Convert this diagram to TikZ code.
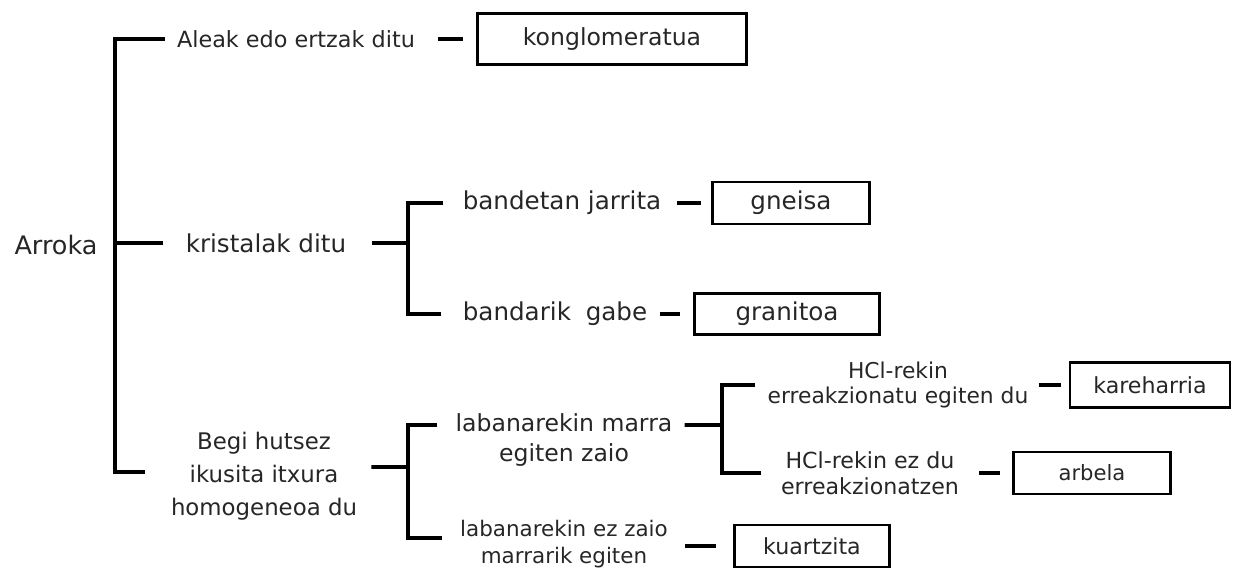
\documentclass[tikz,border=0pt]{standalone}
\usepackage{fontspec}
\setmainfont{DejaVu Sans}
\usepackage{tikz}

\begin{document}
\begin{tikzpicture}
[x=0.2mm,y=-0.2mm,
 bar/.style={line width=2.2pt},
 txt/.style={inner sep=0pt,align=center,text=black!85},
 box/.style={draw,line width=1.4pt,inner sep=0pt,text=black!85},]

\useasboundingbox (0,0) rectangle (1235,570);

% labels
\node (arroka) at (56,245)[txt,font=\fontsize{14.5}{17}\selectfont]{Arroka};
\node (aleak) at (296,39)[txt,font=\fontsize{12.7}{15}\selectfont]{Aleak edo ertzak ditu};
\node (kristal) at (266,243)[txt,font=\fontsize{14}{17}\selectfont]{kristalak ditu};
\node (begi) at (264,476)[txt,font=\fontsize{13}{18.7}\selectfont]{Begi hutsez\\ikusita itxura\\homogeneoa du};
\node (bandetan) at (562,203)[txt,font=\fontsize{14}{17}\selectfont]{bandetan jarrita};
\node (bandarik) at (555,314)[txt,font=\fontsize{14}{17}\selectfont]{bandarik\hspace{0.6em}gabe};
\node (labmarra) at (564,440)[txt,font=\fontsize{13.4}{17}\selectfont]{labanarekin marra\\egiten zaio};
\node (labez) at (564,544)[txt,font=\fontsize{12.2}{15.3}\selectfont]{labanarekin ez zaio\\marrarik egiten};
\node (hcl1) at (898,385)[txt,font=\fontsize{12.4}{14.7}\selectfont]{HCl-rekin\\erreakzionatu egiten du};
\node (hcl2) at (870,473)[txt,font=\fontsize{12.6}{14.7}\selectfont]{HCl-rekin ez du\\erreakzionatzen};

% rock names
\node (kongl) at (612,39)[box,minimum width=53.8mm,minimum height=10.2mm,font=\fontsize{13.4}{16}\selectfont]{konglomeratua};
\node (gneisa) at (791,203)[box,minimum width=31.4mm,minimum height=8.4mm,font=\fontsize{14}{17}\selectfont]{gneisa};
\node (granitoa) at (787,314)[box,minimum width=37mm,minimum height=8.2mm,font=\fontsize{14}{17}\selectfont]{granitoa};
\node (kareharria) at (1150,385)[box,minimum width=32mm,minimum height=9mm,font=\fontsize{12.6}{15}\selectfont]{kareharria};
\node (arbela) at (1092,473)[box,minimum width=31.4mm,minimum height=8.4mm,font=\fontsize{12}{15}\selectfont]{arbela};
\node (kuartzita) at (812,546)[box,minimum width=31mm,minimum height=8.4mm,font=\fontsize{12.6}{15}\selectfont]{kuartzita};

% bracket junctions
\coordinate (sp1) at (115,243);
\coordinate (sp2) at (408,243);
\coordinate (sp3) at (408,467);
\coordinate (sp4) at (722,425);

\draw[bar,shorten <=2.4mm] (aleak.west) -| (sp1);
\draw[bar,shorten <=4.4mm] (kristal.west) -- (sp1);
\draw[bar,shorten <=5.2mm] ([yshift=0.8mm]begi.west) -| (sp1);
\draw[bar,shorten <=4.6mm,shorten >=2.6mm] (aleak.east) -- (kongl.west);

\draw[bar,shorten <=5mm] (kristal.east) -- (sp2);
\draw[bar,shorten <=3.8mm] (bandetan.west) -| (sp2);
\draw[bar,shorten <=4.2mm] (bandarik.west) -| (sp2);
\draw[bar,shorten <=3mm,shorten >=2mm] (bandetan.east) -- (gneisa.west);
\draw[bar,shorten <=2.4mm,shorten >=2.6mm] (bandarik.east) -- (granitoa.west);

\draw[bar,shorten <=2.8mm] ([yshift=1.8mm]begi.east) -- (sp3);
\draw[bar,shorten <=3.6mm] ([yshift=3mm]labmarra.west) -| (sp3);
\draw[bar,shorten <=3.6mm] ([yshift=1.2mm]labez.west) -| (sp3);
\draw[bar,shorten <=3.4mm,shorten >=3.4mm] (labez.east |- kuartzita.west) -- (kuartzita.west);

\draw[bar,shorten <=2.4mm] ([yshift=3mm]labmarra.east) -- (sp4);
\draw[bar,shorten <=2.4mm] (hcl1.west) -| (sp4);
\draw[bar,shorten <=4mm] (hcl2.west) -| (sp4);
\draw[bar,shorten <=2mm,shorten >=1.6mm] (hcl1.east) -- (kareharria.west);
\draw[bar,shorten <=4mm,shorten >=2.4mm] (hcl2.east) -- (arbela.west);

\end{tikzpicture}
\end{document}
